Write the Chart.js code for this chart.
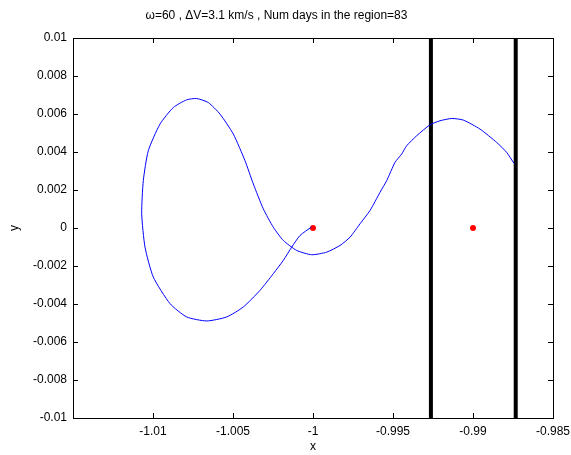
<!DOCTYPE html>
<html lang="en">
<head>
  <meta charset="UTF-8">
  <title>Orbit in the region</title>
  <script src="https://cdn.jsdelivr.net/npm/chart.js"></script>
  <style>
    body {
      margin: 0;
      background: #ffffff;
    }
    .chart-box {
      width: 571px;
      height: 455px;
    }
  </style>
</head>
<body>
  <div class="chart-box">
    <canvas id="orbitChart"></canvas>
  </div>

  <script>
    // trajectory
    const orbitX = [-1.0001, -1.000812, -1.001331, -1.001856, -1.002481, -1.003312, -1.004356, -1.005394,
      -1.006644, -1.007894, -1.008938, -1.009981, -1.0105, -1.010706, -1.010606, -1.010294, -1.009562,
      -1.008731, -1.007894, -1.007269, -1.006544, -1.005812, -1.004981, -1.00425, -1.003731, -1.003106,
      -1.002481, -1.001856, -1.001019, -1.000081, -0.999144, -0.998312, -0.997687, -0.997062, -0.996437,
      -0.995812, -0.995394, -0.994875, -0.994456, -0.994144, -0.993519, -0.992687, -0.992062, -0.991331,
      -0.990606, -0.989563, -0.988519, -0.987894, -0.987437];
    const orbitY = [0.00005, -0.000394, -0.001008, -0.001706, -0.002404, -0.003281, -0.004157, -0.004682,
      -0.004892, -0.004682, -0.003979, -0.002583, -0.001008, 0.000745, 0.002493, 0.004068, 0.00547,
      0.006341, 0.006745, 0.006814, 0.006604, 0.005995, 0.004945, 0.003543, 0.00232, 0.001008,
      0.000042, -0.000656, -0.001181, -0.001407, -0.00127, -0.000919, -0.000483, 0.00022, 0.000919,
      0.001879, 0.002493, 0.003454, 0.003895, 0.004331, 0.004856, 0.005433, 0.005643, 0.005764,
      0.00568, 0.005207, 0.004504, 0.003979, 0.003402];

    const bodyX = [-1, -0.99];
    const bodyY = [0, 0];

    const boundaryX = [-0.99263, -0.98733];

    const xMin = -1.015, xMax = -0.985, xStep = 0.005;
    const yMin = -0.01, yMax = 0.01, yStep = 0.002;

    const fmt = v => String(Number(v.toFixed(4)));
    const font = { family: 'Liberation Sans', size: 12, weight: 'normal' };

    const datasets = [{
      data: orbitX.map((x, i) => ({ x: x, y: orbitY[i] })),
      showLine: true,
      borderColor: '#0000ff',
      borderWidth: 1,
      pointRadius: 0,
      tension: 0.2
    }];
    boundaryX.forEach(b => {
      datasets.push({
        data: [{ x: b, y: yMin }, { x: b, y: yMax }],
        showLine: true,
        borderColor: '#000000',
        borderWidth: 4,
        pointRadius: 0
      });
    });
    datasets.push({
      data: bodyX.map((x, i) => ({ x: x, y: bodyY[i] })),
      showLine: false,
      pointRadius: 3,
      pointBackgroundColor: '#ff0000',
      pointBorderColor: '#ff0000',
      pointBorderWidth: 0
    });

    // matlab style box with inward ticks
    const boxPlugin = {
      id: 'boxPlugin',
      afterDatasetsDraw(chart) {
        const { ctx, chartArea: a, scales } = chart;
        ctx.save();
        ctx.strokeStyle = '#000';
        ctx.lineWidth = 1;
        ctx.strokeRect(Math.round(a.left) + 0.5, Math.round(a.top) + 0.5,
          Math.round(a.right - a.left), Math.round(a.bottom - a.top));
        ctx.beginPath();
        scales.x.ticks.forEach(t => {
          if (t.value <= xMin + 1e-9 || t.value >= xMax - 1e-9) return;
          const px = Math.round(scales.x.getPixelForValue(t.value)) + 0.5;
          ctx.moveTo(px, a.bottom); ctx.lineTo(px, a.bottom - 5);
          ctx.moveTo(px, a.top); ctx.lineTo(px, a.top + 5);
        });
        scales.y.ticks.forEach(t => {
          if (t.value <= yMin + 1e-9 || t.value >= yMax - 1e-9) return;
          const py = Math.round(scales.y.getPixelForValue(t.value)) + 0.5;
          ctx.moveTo(a.left, py); ctx.lineTo(a.left + 5, py);
          ctx.moveTo(a.right, py); ctx.lineTo(a.right - 5, py);
        });
        ctx.stroke();
        ctx.restore();
      }
    };

    const ctx = document.getElementById('orbitChart').getContext('2d');
    new Chart(ctx, {
      type: 'scatter',
      data: { datasets: datasets },
      options: {
        responsive: true,
        maintainAspectRatio: false,
        animation: false,
        layout: { padding: { left: 0, right: 18, top: 0, bottom: 0 } },
        plugins: {
          legend: { display: false },
          tooltip: { enabled: false },
          title: {
            display: true,
            text: 'ω=60 , ΔV=3.1 km/s , Num days in the region=83',
            color: '#000',
            font: font,
            padding: { top: 8, bottom: 15.6 }
          }
        },
        scales: {
          x: {
            type: 'linear',
            min: xMin,
            max: xMax,
            grid: { display: false, drawTicks: false },
            border: { display: false },
            ticks: {
              stepSize: xStep,
              color: '#000',
              font: font,
              padding: 6,
              maxRotation: 0,
              callback: v => (v <= xMin + 1e-9 ? '' : fmt(v))
            },
            title: { display: true, text: 'x', color: '#000', font: font, padding: { top: 0, bottom: 1 } },
            afterFit(scale) {
              scale.height = 37;
              scale.paddingLeft = 0;
              scale.paddingRight = 0;
            }
          },
          y: {
            type: 'linear',
            min: yMin,
            max: yMax,
            grid: { display: false, drawTicks: false },
            border: { display: false },
            ticks: {
              stepSize: yStep,
              color: '#000',
              font: font,
              padding: 6,
              callback: v => fmt(v)
            },
            title: { display: true, text: 'y', color: '#000', font: font, padding: { top: 7, bottom: 0 } },
            afterFit(scale) {
              scale.width = 73;
              scale.paddingTop = 0;
              scale.paddingBottom = 0;
            }
          }
        }
      },
      plugins: [boxPlugin]
    });
  </script>
</body>
</html>
